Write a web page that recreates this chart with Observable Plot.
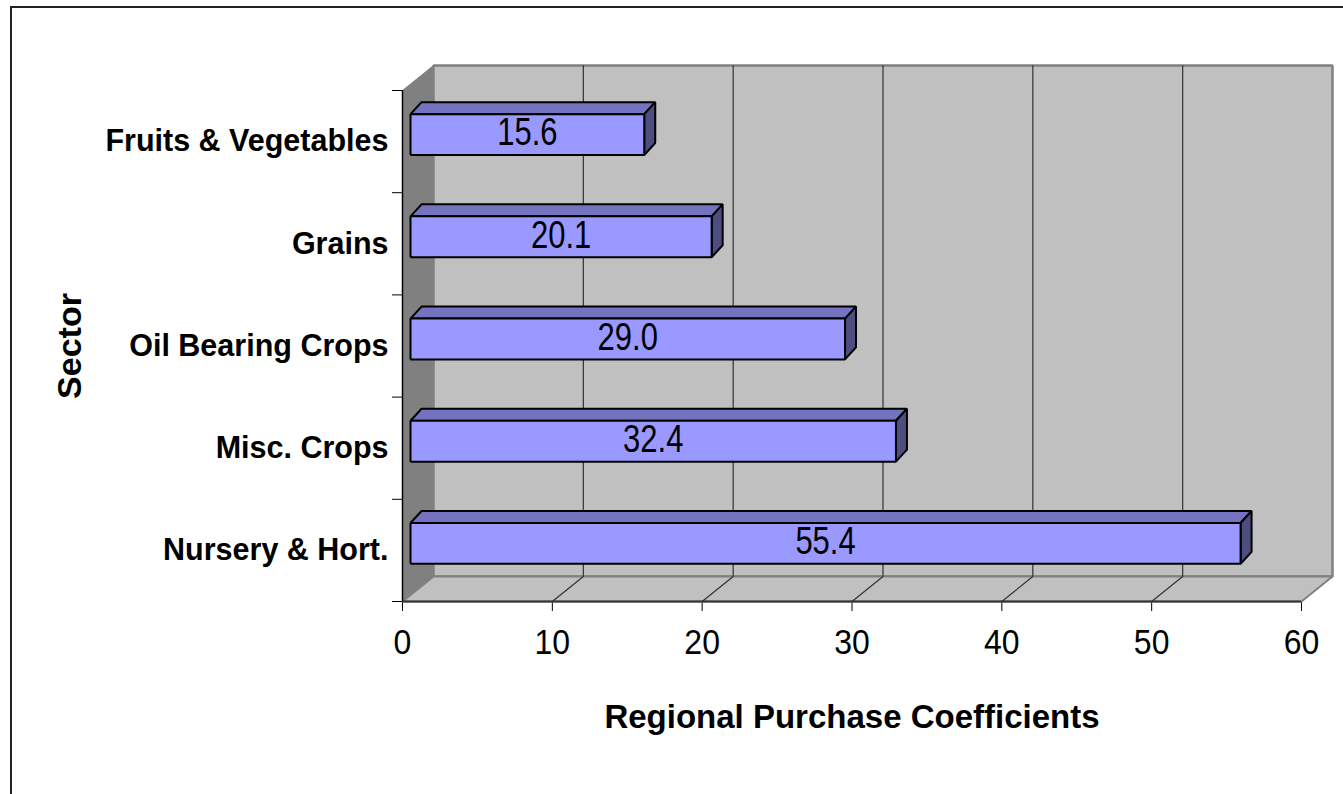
<!DOCTYPE html>
<html><head><meta charset="utf-8">
<script src="https://cdn.jsdelivr.net/npm/d3@7"></script>
<script src="https://cdn.jsdelivr.net/npm/@observablehq/plot@0.6"></script>
<style>
html,body{margin:0;padding:0;background:#fff;overflow:hidden;}
#chart{position:absolute;left:0;top:0;}
#frame{position:absolute;left:10px;top:6px;width:2000px;height:2000px;border-top:2px solid #222;border-left:2px solid #222;pointer-events:none;}
</style></head><body>
<div id="chart"></div><div id="frame"></div>
<script>
// ---- data ----
const sectors = ["Fruits & Vegetables", "Grains", "Oil Bearing Crops", "Misc. Crops", "Nursery & Hort."];
const coefficients = [15.6, 20.1, 29.0, 32.4, 55.4];
const valueLabels = ["15.6", "20.1", "29.0", "32.4", "55.4"];
const xTicks = [0, 10, 20, 30, 40, 50, 60];
const xTitle = "Regional Purchase Coefficients";
const yTitle = "Sector";

// ---- layout ----
const W = 1343, H = 794, ML = 402, MR = 42, MT = 90, MB = 193;
const xMax = xTicks[xTicks.length - 1], nCat = sectors.length;
const pxX = (W - ML - MR) / xMax, pxY = (H - MT - MB) / nCat;
// oblique depth offsets in pixels: [right, up]
const WALL = [31, 25], BAR_FRONT = [8, 7], BAR_BACK = [19, 19];
const P = (v, c, o) => ({x: v + o[0] / pxX, y: c + o[1] / pxY});
const Z = [0, 0];
const catY = i => nCat - i - 0.5;
const poly = (id, pts) => [...pts, pts[0]].map(p => ({id, ...p}));

const backWall = poly("back", [P(0,0,WALL), P(xMax,0,WALL), P(xMax,nCat,WALL), P(0,nCat,WALL)]);
const leftWall = poly("left", [P(0,0,Z), P(0,0,WALL), P(0,nCat,WALL), P(0,nCat,Z)]);
const floorPoly = poly("floor", [P(0,0,Z), P(xMax,0,Z), P(xMax,0,WALL), P(0,0,WALL)]);
const grid = xTicks.filter(t => t > 0 && t < xMax)
  .flatMap(t => [P(t,0,Z), P(t,0,WALL), P(t,nCat,WALL)].map(p => ({id: t, ...p})));

const h = 0.2;
const rows = sectors.map((s, i) => ({sector: s, value: coefficients[i], label: valueLabels[i], c: catY(i)}));
const F = BAR_FRONT, B = BAR_BACK;
const fronts = rows.flatMap((r, i) => poly(i, [P(0,r.c-h,F), P(r.value,r.c-h,F), P(r.value,r.c+h,F), P(0,r.c+h,F)]));
const tops = rows.flatMap((r, i) => poly(i, [P(0,r.c+h,F), P(r.value,r.c+h,F), P(r.value,r.c+h,B), P(0,r.c+h,B)]));
const sides = rows.flatMap((r, i) => poly(i, [P(r.value,r.c-h,F), P(r.value,r.c-h,B), P(r.value,r.c+h,B), P(r.value,r.c+h,F)]));

const face = (data, fill, stroke, sw) => Plot.line(data, {x: "x", y: "y", z: "id", fill, stroke, strokeWidth: sw, strokeLinejoin: "miter", strokeLinecap: "butt"});

const chart = Plot.plot({
  width: W, height: H,
  marginLeft: ML, marginRight: MR, marginTop: MT, marginBottom: MB,
  style: {fontFamily: "'Liberation Sans', Arial, sans-serif", fontSize: "32px", background: "transparent", color: "#000"},
  x: {domain: [0, xMax], ticks: xTicks, tickSize: 10, tickFormat: () => "", label: null},
  y: {domain: [0, nCat], ticks: d3.range(nCat + 1), tickSize: 10, tickFormat: () => "", label: null},
  marks: [
    face(backWall, "#c0c0c0", "#808080", 2.5),
    face(leftWall, "#808080", "#808080", 1),
    face(floorPoly, "#c0c0c0", "#808080", 2),
    Plot.line(grid, {x: "x", y: "y", z: "id", stroke: "#333", strokeWidth: 1.2, strokeLinejoin: "miter"}),
    Plot.ruleY([0], {x1: 0, x2: xMax, stroke: "#333", strokeWidth: 2}),
    Plot.ruleX([0], {y1: 0, y2: nCat, stroke: "#000", strokeWidth: 1.5}),
    face(tops, "#7373c0", "#000", 2),
    face(sides, "#4d4d80", "#000", 2),
    face(fronts, "#9999ff", "#000", 2),
    // text mark 0: bar value labels
    Plot.text(rows, {x: d => d.value / 2 + F[0] / pxX, y: d => d.c + F[1] / pxY, dy: -1, text: "label", fontSize: 31, fill: "#000"}),
    // text mark 1: x tick labels
    Plot.text(xTicks, {x: d => d, text: d => String(d), frameAnchor: "bottom", dy: 42, fontSize: 32, fill: "#000"}),
    Plot.text(rows, {x: 0, y: "c", text: "sector", textAnchor: "end", dx: -14, fontSize: 30.5, fontWeight: "bold", fill: "#000"}),
    Plot.text([xTitle], {frameAnchor: "bottom", dy: 126, fontSize: 33, fontWeight: "bold", fill: "#000"}),
    Plot.text([yTitle], {frameAnchor: "left", textAnchor: "middle", dx: -332, rotate: -90, fontSize: 34, fontWeight: "bold", fill: "#000"})
  ]
});

// vertically stretched lettering, as in the original chart
const textGroups = chart.querySelectorAll('g[aria-label="text"]');
function stretch(g, sy) {
  if (!g) return;
  g.querySelectorAll("text").forEach(t => {
    const tr = t.getAttribute("transform") || "";
    t.setAttribute("transform", `${tr} scale(1,${sy})`);
    t.setAttribute("y", "0.3em");
  });
}
stretch(textGroups[0], 1.27);
stretch(textGroups[1], 1.1);
document.getElementById("chart").appendChild(chart);
</script>
</body></html>
